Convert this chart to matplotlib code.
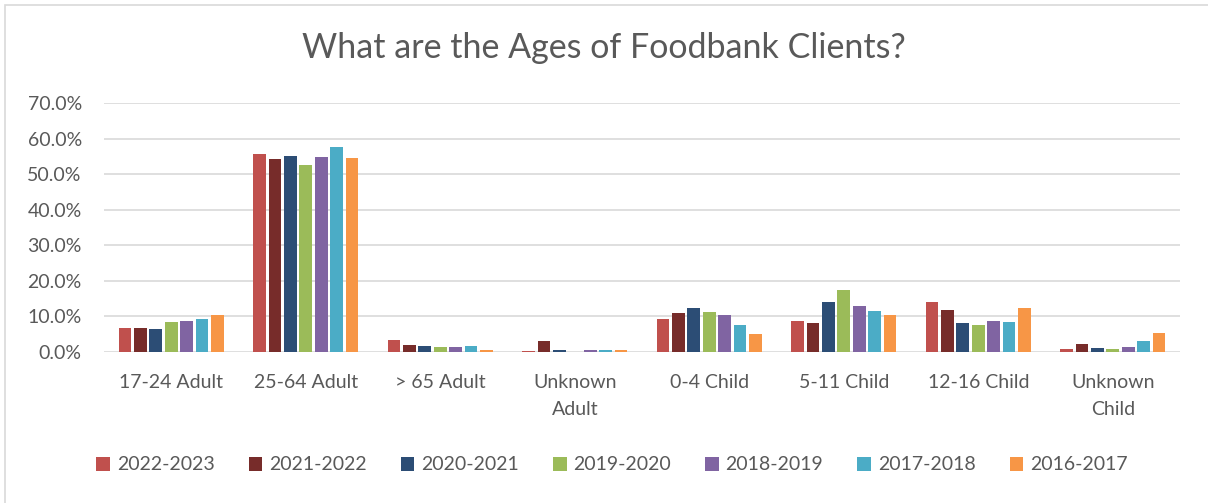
import matplotlib
matplotlib.use("Agg")
import matplotlib.pyplot as plt
import numpy as np
from matplotlib.patches import Rectangle
from matplotlib.ticker import FuncFormatter

categories = ["17-24 Adult", "25-64 Adult", "> 65 Adult", "Unknown\nAdult",
              "0-4 Child", "5-11 Child", "12-16 Child", "Unknown\nChild"]
series_names = ["2022-2023", "2021-2022", "2020-2021", "2019-2020",
                "2018-2019", "2017-2018", "2016-2017"]
# Share of clients (%) per age band, one list per year
v_2022_2023 = [6.8, 55.8, 3.5, 0.3, 9.3, 8.7, 14.0, 0.8]
v_2021_2022 = [6.8, 54.3, 2.0, 3.0, 10.9, 8.1, 11.8, 2.2]
v_2020_2021 = [6.4, 55.1, 1.6, 0.7, 12.3, 14.1, 8.1, 1.1]
v_2019_2020 = [8.4, 52.5, 1.3, 0.0, 11.2, 17.5, 7.5, 0.8]
v_2018_2019 = [8.6, 54.8, 1.5, 0.5, 10.5, 12.9, 8.8, 1.5]
v_2017_2018 = [9.4, 57.5, 1.6, 0.5, 7.6, 11.4, 8.4, 3.0]
v_2016_2017 = [10.3, 54.5, 0.7, 0.5, 5.2, 10.3, 12.4, 5.4]
series_values = [v_2022_2023, v_2021_2022, v_2020_2021, v_2019_2020,
                 v_2018_2019, v_2017_2018, v_2016_2017]
colors = ["#C0504D", "#772C2A", "#2C4D75", "#9BBB59",
          "#8064A2", "#4BACC6", "#F79646"]

plt.rcParams["font.family"] = ["Lato", "DejaVu Sans"]
text_color = "#595959"

fig = plt.figure(figsize=(12.08, 5.03), dpi=100)
fig.patches.append(Rectangle((5 / 1208, -0.1), 1.2, 1 - 5 / 503 + 0.1,
                             transform=fig.transFigure, fill=False,
                             edgecolor="#d9d9d9", linewidth=1.2))
ax = fig.add_axes([104 / 1208, 1 - 352 / 503, 1076 / 1208, 249 / 503])

x = np.arange(len(categories))
step = 0.1145
bar_w = 0.095
for i, (name, vals, col) in enumerate(zip(series_names, series_values, colors)):
    offs = (i - 3) * step
    ax.bar(x + offs, np.array(vals) / 100, width=bar_w, color=col,
           label=name, zorder=3)

ax.set_xlim(-0.5, len(categories) - 0.5)
ax.set_ylim(0, 0.7)
ax.set_yticks(np.arange(0, 0.71, 0.1))
ax.yaxis.set_major_formatter(FuncFormatter(lambda v, p: f"{v * 100:.1f}%"))
ax.grid(axis="y", color="#d9d9d9", linewidth=1.2, zorder=0)
for s in ax.spines.values():
    s.set_visible(False)
ax.tick_params(axis="both", length=0, labelsize=14, colors=text_color)
ax.tick_params(axis="y", pad=16)
ax.tick_params(axis="x", pad=16)
ax.set_xticks(x)
ax.set_xticklabels(categories, linespacing=1.7)

fig.text(0.5, 1 - 48 / 503, "What are the Ages of Foodbank Clients?",
         ha="center", va="center", fontsize=24.5, color=text_color)

leg = fig.legend(loc="center", bbox_to_anchor=(612 / 1208, 1 - 465 / 503),
                 ncol=7, frameon=False, fontsize=14, handlelength=0.7,
                 handleheight=0.7, handletextpad=0.35, columnspacing=1.75)
for t in leg.get_texts():
    t.set_color(text_color)

fig.savefig("out.png", dpi=100)
